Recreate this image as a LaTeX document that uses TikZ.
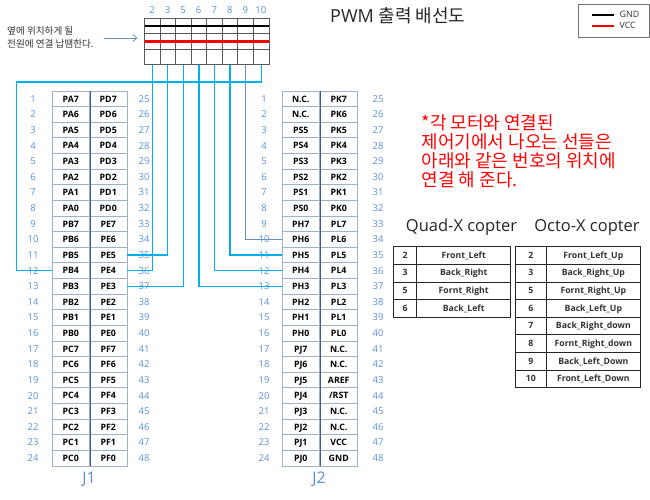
\documentclass[tikz,border=0pt]{standalone}
\usepackage{fontspec}
\usetikzlibrary{arrows.meta}
\setmainfont{Open Sans}
\newfontfamily\krfont{Noto Sans CJK KR}
\definecolor{wireblue}{RGB}{0,176,240}
\definecolor{steelwire}{RGB}{104,142,198}
\definecolor{numblue}{RGB}{91,143,214}
\definecolor{cellline}{RGB}{160,177,204}
\definecolor{midline}{RGB}{60,92,144}
\tikzset{
  pincell/.style={draw=cellline,line width=0.8pt,minimum width=37.5pt,minimum height=15.625pt,inner sep=0pt,text height=6.4pt,text depth=0pt,font=\fontsize{8.8}{10}\selectfont\bfseries},
  pinnum/.style={text=numblue,inner sep=0pt,font=\fontsize{9.5}{11}\selectfont},
  header/.style={draw=black!65,line width=0.8pt,minimum width=15.56pt,minimum height=46.5pt,inner sep=0pt},
  gridline/.style={draw=black!65,line width=0.7pt},
  wire/.style={draw=wireblue,line width=1.2pt},
  motorcell/.style={draw=black!85,line width=0.9pt,minimum height=17.63pt,inner sep=0pt,text height=6.4pt,text depth=1pt,font=\fontsize{8.7}{10}\selectfont\bfseries,text=black!80},
  heading/.style={inner sep=0pt,text=black!85,font=\fontsize{16.5}{19}\selectfont},
}
\begin{document}
\begin{tikzpicture}[x=1pt,y=-1pt]
    \useasboundingbox (0,0) rectangle (650,499);
    % J1 connector
    \foreach \lname [count=\i] in {PA7,PA6,PA5,PA4,PA3,PA2,PA1,PA0,PB7,PB6,PB5,PB4,PB3,PB2,PB1,PB0,PC7,PC6,PC5,PC4,PC3,PC2,PC1,PC0} {
      \node[pincell] (j1l\i) at (70.75,{91+15.625*(\i-0.5)}) {\lname};
      \node[pinnum] (j1n\i) at (33,{91+15.625*(\i-0.5)}) {\i};
    }
    \foreach \rname [count=\i] in {PD7,PD6,PD5,PD4,PD3,PD2,PD1,PD0,PE7,PE6,PE5,PE4,PE3,PE2,PE1,PE0,PF7,PF6,PF5,PF4,PF3,PF2,PF1,PF0} {
      \pgfmathtruncatemacro{\k}{\i+24}
      \node[pincell] (j1r\i) at (108.25,{91+15.625*(\i-0.5)}) {\rname};
      \node[pinnum] (j1m\i) at (144,{91+15.625*(\i-0.5)}) {\k};
    }
    % J2 connector
    \foreach \lname [count=\i] in {N.C.,N.C.,PS5,PS4,PS3,PS2,PS1,PS0,PH7,PH6,PH5,PH4,PH3,PH2,PH1,PH0,PJ7,PJ6,PJ5,PJ4,PJ3,PJ2,PJ1,PJ0} {
      \node[pincell] (j2l\i) at (300.75,{91+15.625*(\i-0.5)}) {\lname};
      \node[pinnum] (j2n\i) at (264,{91+15.625*(\i-0.5)}) {\i};
    }
    \foreach \rname [count=\i] in {PK7,PK6,PK5,PK4,PK3,PK2,PK1,PK0,PL7,PL6,PL5,PL4,PL3,PL2,PL1,PL0,N.C.,N.C.,AREF,/RST,N.C.,N.C.,VCC,GND} {
      \pgfmathtruncatemacro{\k}{\i+24}
      \node[pincell] (j2r\i) at (338.75,{91+15.625*(\i-0.5)}) {\rname};
      \node[pinnum] (j2m\i) at (378,{91+15.625*(\i-0.5)}) {\k};
    }
    \draw[midline,line width=0.8pt] (j1l1.north east) -- (j1l24.south east);
    \draw[midline,line width=0.8pt] (j2l1.north east) -- (j2l24.south east);
    \node[text=numblue,inner sep=0pt,font=\fontsize{16}{18}\selectfont] (j1name) at (89,479) {J1};
    \node[text=numblue,inner sep=0pt,font=\fontsize{16}{18}\selectfont] (j2name) at (319,479) {J2};
    % header strip
    \foreach \n [count=\i] in {2,3,5,6,7,8,9,10} {
      \node[header] (pin\n) at ({152.28+15.56*(\i-1)},41.25) {};
      \node[pinnum] (top\n) at ({152+15.56*(\i-1)},10.5) {\n};
    }
    \foreach \y in {33.5,49.5} \draw[gridline] (144.5,\y) -- (269,\y);
    \draw[black,line width=1.7pt] (144.5,26) -- (269,26);
    \draw[red,line width=2.2pt] (144.5,41.5) -- (269,41.5);
    % wires
    \coordinate (wrap) at (16.5,82);
    \draw[wire] (pin2.south) |- (j1r12.east);
    \draw[wire] (pin3.south) |- (j1r11.east);
    \draw[wire] (pin5.south) |- (j1r13.east);
    \draw[wire] (pin6.south) |- (j2l13.west);
    \draw[wire] (pin7.south) |- (j2l12.west);
    \draw[wire] (pin8.south) |- (j2l11.west);
    \draw[wire,draw=steelwire] (pin9.south) |- (j2l10.west);
    \draw[wire] (pin10.south) |- (wrap) |- (j1l12.west);
    % note and arrow
    \node[inner sep=0pt,anchor=west,align=left,text=black!80,font=\krfont\fontsize{9.6}{13}\selectfont] (note) at (7,37) {옆에 위치하게 될\\전원에 연결 납땜한다.};
    \coordinate (notestart) at (104,38);
    \coordinate (notetip) at (137.5,38);
    \draw[steelwire,line width=0.8pt,-{Straight Barb[length=4pt,width=7pt]}] (notestart) -- (notetip);
    % title
    \node[inner sep=0pt,text=black!85,font=\fontsize{18}{20}\selectfont,anchor=west] (title) at (330,15.5) {PWM {\krfont 출력 배선도}};
    % legend
    \node[draw=black!55,line width=0.8pt,minimum width=71pt,minimum height=33pt,inner sep=0pt] (legend) at (613.5,20.5) {};
    \node[inner sep=0pt,anchor=west,text=black!80,font=\fontsize{8.8}{10}\selectfont] (gnd) at (619.5,14.5) {GND};
    \node[inner sep=0pt,anchor=west,text=black!80,font=\fontsize{8.8}{10}\selectfont] (vcc) at (619.5,25.5) {VCC};
    \coordinate (gndstart) at (591.5,14.5);
    \coordinate (gndend) at (614,14.5);
    \coordinate (vccstart) at (591.5,25.5);
    \coordinate (vccend) at (614,25.5);
    \draw[black,line width=2pt] (gndstart) -- (gndend);
    \draw[red,line width=2pt] (vccstart) -- (vccend);
    % red remark
    \node[inner sep=0pt,anchor=west,align=left,text=red,font=\krfont\fontsize{18}{19.1}\selectfont] (remark) at (421.5,151.5) {*각 모터와 연결된\\제어기에서 나오는 선들은\\아래와 같은 번호의 위치에\\연결 해 준다.};
    % quad table
    \node[heading] (quadname) at (461.5,227) {Quad-X copter};
    \foreach \n/\lbl [count=\i] in {2/Front\_Left,3/Back\_Right,5/Fornt\_Right,6/Back\_Left} {
      \node[motorcell,minimum width=23.4pt] (qn\i) at (405,{246.7+17.63*(\i-0.5)}) {\n};
      \node[motorcell,minimum width=94pt] (ql\i) at (463.7,{246.7+17.63*(\i-0.5)}) {\lbl};
    }
    % octo table
    \node[heading] (octoname) at (587,227) {Octo-X copter};
    \foreach \n/\lbl [count=\i] in {2/Front\_Left\_Up,3/Back\_Right\_Up,5/Fornt\_Right\_Up,6/Back\_Left\_Up,7/Back\_Right\_down,8/Fornt\_Right\_down,9/Back\_Left\_Down,10/Front\_Left\_Down} {
      \node[motorcell,minimum width=30.3pt] (on\i) at (530.85,{246.7+17.63*(\i-0.5)}) {\n};
      \node[motorcell,minimum width=94.7pt] (ol\i) at (593.35,{246.7+17.63*(\i-0.5)}) {\lbl};
    }
\end{tikzpicture}
\end{document}
